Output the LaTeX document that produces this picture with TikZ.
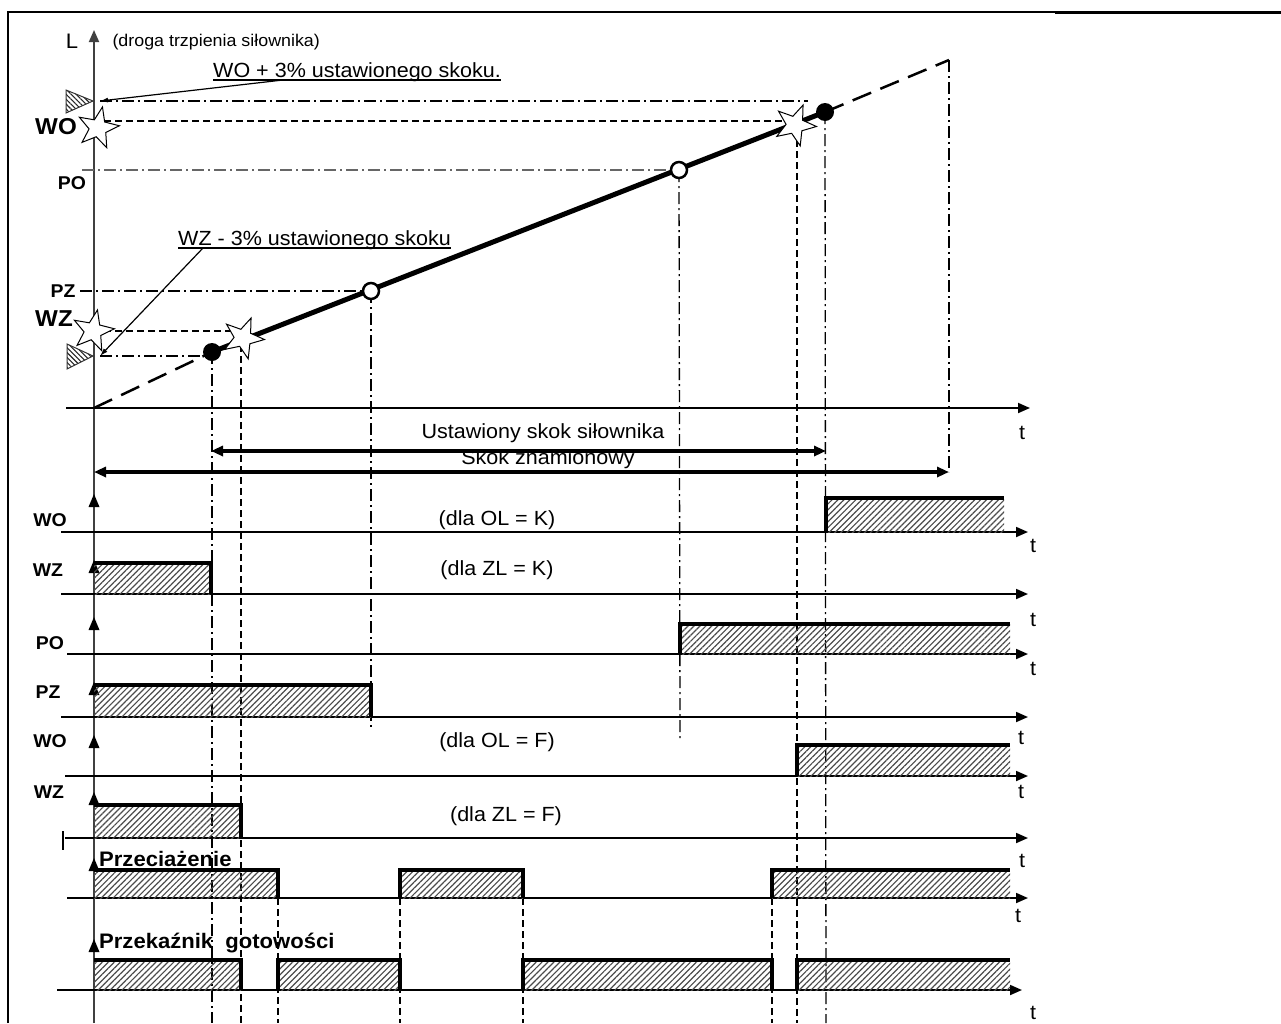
\documentclass[tikz,border=0pt]{standalone}
\usepackage{fontspec}
\setmainfont{Liberation Sans}[FakeStretch=1.05]
\usetikzlibrary{arrows.meta,shapes.geometric,patterns.meta}

\begin{document}
\begin{tikzpicture}[x=1pt,y=-1pt,>={Triangle[length=12pt,width=10pt]},
        axisline/.style={line width=1.8pt},
        dashdotline/.style={line width=1.3pt,dash pattern=on 12pt off 4pt on 2pt off 4pt},
        shortdash/.style={line width=1.3pt,dash pattern=on 7pt off 4pt},
        longdash/.style={line width=2.5pt,dash pattern=on 20pt off 10pt},
        sigedge/.style={line width=4pt},
        hatch/.style={pattern={Lines[angle=45,distance=4.2pt,line width=1.2pt]},pattern color=black!70},
        trihatch/.style={pattern={Lines[angle=-45,distance=3.5pt,line width=1.1pt]},pattern color=black!85},
        txt/.style={font=\fontsize{20.5}{23}\selectfont},
        rowlbl/.style={font=\bfseries\fontsize{18.5}{21}\selectfont},
        biglbl/.style={font=\bfseries\fontsize{23}{25}\selectfont},
        starmark/.style={star,star points=5,star point ratio=2.4,draw,fill=white,line width=1pt,minimum size=43pt,inner sep=0pt},
        leader/.style={line width=1.2pt,-{Latex[length=8pt,width=5pt]}}]
        \useasboundingbox (0,0) rectangle (1281,1023);

        % frame
        \draw[line width=1.5pt] (8,1023) -- (8,12) -- (1055,12);
        \draw[line width=2.5pt] (1055,12.5) -- (1281,12.5);

        % L axis and t axis
        \draw[axisline,black!75,->] (94,1023) -- (94,30);
        \node[font=\fontsize{21}{23}\selectfont] (Ltxt) at (72,41) {L};
        \node[anchor=west,font=\fontsize{17}{19}\selectfont] (note) at (109,42) {(droga trzpienia siłownika)};
        \draw[axisline,->] (66,408) -- (1030,408);
        \node[txt] (t0) at (1022,433) {t};

        % points on the stroke line
        \coordinate (O) at (94,408);
        \coordinate (pWZ) at (212,352);
        \coordinate (pWO) at (825,112);
        \coordinate (pEnd) at (949,60);
        \coordinate (pPZ) at (371,291);
        \coordinate (pPO) at (679,170);
        \draw[longdash] (O) -- (pWZ);
        \draw[longdash] (pWO) -- (pEnd);
        \draw[line width=5pt] (pWZ) -- (pWO);

        % levels
        \coordinate (woax) at (100,101);
        \coordinate (wzax) at (100,356);
        \draw[dashdotline] (woax) -- (808,101);
        \draw[shortdash] (104,121) -- (783,121);
        \draw[dashdotline,black!60] (82,170) -- (pPO);
        \draw[dashdotline] (80,291) -- (pPZ);
        \draw[shortdash] (104,331) -- (233,331);
        \draw[dashdotline] (wzax) -- (pWZ |- wzax);

        % verticals
        \draw[dashdotline] (pWZ) -- (212,1023);
        \draw[shortdash] (241,345) -- (241,1023);
        \draw[dashdotline] (pPZ) -- (371,729);
        \draw[dashdotline] (pPO) -- (680,738);
        \draw[shortdash] (797,140) -- (797,1023);
        \draw[dashdotline] (pWO) -- (826,1023);
        \draw[dashdotline] (pEnd) -- (949,472);
        \foreach \x in {278,400,523,772}
            \draw[shortdash] (\x,898) -- (\x,1023);

        % end switches on the axis
        \filldraw[trihatch,draw=black!80,line width=1pt] (66,90) -- (66,113) -- (93,101) -- cycle;
        \filldraw[trihatch,draw=black!80,line width=1pt] (67,344) -- (67,369) -- (93,356) -- cycle;

        % stars and dots
        \node[starmark,rotate=-12] (starWOax) at (98,128) {};
        \node[starmark,rotate=-12] (starWZax) at (93,331) {};
        \node[starmark,rotate=-22] (starWZ) at (243,338) {};
        \node[starmark,rotate=-22] (starWO) at (795,125) {};
        \node[circle,fill,inner sep=0pt,minimum size=18pt] (dotWZ) at (pWZ) {};
        \node[circle,fill,inner sep=0pt,minimum size=18pt] (dotWO) at (pWO) {};
        \node[circle,draw,fill=white,line width=2.5pt,inner sep=0pt,minimum size=16pt] (ringPZ) at (pPZ) {};
        \node[circle,draw,fill=white,line width=2.5pt,inner sep=0pt,minimum size=16pt] (ringPO) at (pPO) {};

        % level labels
        \node[biglbl] (lWO) at (56,127) {WO};
        \node[biglbl] (lWZ) at (54,319) {WZ};
        \node[rowlbl] (lPO) at (72,183) {PO};
        \node[rowlbl] (lPZ) at (63,291) {PZ};

        % notes with leaders
        \node[txt,anchor=base west,inner sep=0pt] (wop) at (213,77) {WO + 3\% ustawionego skoku.};
        \draw[line width=1.2pt] ([yshift=-3pt]wop.base west) -- ([yshift=-3pt]wop.base east);
        \draw[leader] ([xshift=70pt,yshift=-3pt]wop.base west) -- (woax);
        \node[txt,anchor=base west,inner sep=0pt] (wzm) at (178,245) {WZ - 3\% ustawionego skoku};
        \draw[line width=1.2pt] ([yshift=-3pt]wzm.base west) -- ([yshift=-3pt]wzm.base east);
        \draw[leader] ([xshift=25pt,yshift=-3pt]wzm.base west) -- (wzax);

        % stroke arrows
        \coordinate (ustL) at (211,451);
        \coordinate (ustR) at (826,451);
        \coordinate (znL) at (94,472);
        \coordinate (znR) at (949,472);
        \draw[line width=3.5pt,<->] (ustL) -- (ustR);
        \draw[line width=3.5pt,<->] (znL) -- (znR);
        \node[txt] (ustaw) at (543,433) {Ustawiony skok siłownika};
        \node[txt] (skokzn) at (548,459) {Skok znamionowy};

        % row arrows on the axis
        \foreach \y in {494,560,617,682,735,792,858,939}
            \fill (94,\y) -- (88.5,\y+13) -- (99.5,\y+13) -- cycle;

        % WO (dla OL = K)
        \draw[axisline,->] (61,532) -- (1028,532);
        \node[rowlbl] (rWO1) at (50,520) {WO};
        \node[txt] (cOLK) at (497,520) {(dla OL = K)};
        \node[txt] (tWO1) at (1033,546) {t};
        \fill[hatch] (826,498) rectangle (1004,532);
        \draw[sigedge] (826,532) -- (826,498) -- (1004,498);

        % WZ (dla ZL = K)
        \draw[axisline,->] (61,594) -- (1028,594);
        \node[rowlbl] (rWZ1) at (48,570) {WZ};
        \node[txt] (cZLK) at (497,570) {(dla ZL = K)};
        \node[txt] (tWZ1) at (1033,620) {t};
        \fill[hatch] (94,563) rectangle (211,594);
        \draw[sigedge] (94,563) -- (211,563) -- (211,594);

        % PO
        \draw[axisline,->] (67,654) -- (1028,654);
        \node[rowlbl] (rPO) at (50,643) {PO};
        \node[txt] (tPO) at (1033,669) {t};
        \fill[hatch] (680,624) rectangle (1010,654);
        \draw[sigedge] (680,654) -- (680,624) -- (1010,624);

        % PZ
        \draw[axisline,->] (61,717) -- (1028,717);
        \node[rowlbl] (rPZ) at (48,692) {PZ};
        \node[txt] (tPZ) at (1021,738) {t};
        \fill[hatch] (94,685) rectangle (371,717);
        \draw[sigedge] (94,685) -- (371,685) -- (371,717);

        % WO (dla OL = F)
        \draw[axisline,->] (65,776) -- (1028,776);
        \node[rowlbl] (rWO2) at (50,741) {WO};
        \node[txt] (cOLF) at (497,742) {(dla OL = F)};
        \node[txt] (tWO2) at (1021,792) {t};
        \fill[hatch] (797,745) rectangle (1010,776);
        \draw[sigedge] (797,776) -- (797,745) -- (1010,745);

        % WZ (dla ZL = F)
        \draw[axisline,->] (65,838) -- (1028,838);
        \draw[line width=2.5pt] (63,831) -- (63,850);
        \node[rowlbl] (rWZ2) at (49,792) {WZ};
        \node[txt] (cZLF) at (506,816) {(dla ZL = F)};
        \node[txt] (tWZ2) at (1022,861) {t};
        \fill[hatch] (94,805) rectangle (241,838);
        \draw[sigedge] (94,805) -- (241,805) -- (241,838);

        % Przeciazenie
        \draw[axisline,->] (67,898) -- (1028,898);
        \node[anchor=base west,inner sep=0pt,font=\bfseries\fontsize{21}{23}\selectfont] (przec) at (99,866) {Przeciażenie};
        \node[txt] (tPrc) at (1018,916) {t};
        \fill[hatch] (94,870) rectangle (278,898);
        \fill[hatch] (400,870) rectangle (523,898);
        \fill[hatch] (772,870) rectangle (1010,898);
        \draw[sigedge] (94,870) -- (278,870) -- (278,898);
        \draw[sigedge] (400,898) -- (400,870) -- (523,870) -- (523,898);
        \draw[sigedge] (772,898) -- (772,870) -- (1010,870);

        % Przekaznik gotowosci
        \draw[axisline,->] (57,990) -- (1022,990);
        \node[anchor=base west,inner sep=0pt,font=\bfseries\fontsize{21}{23}\selectfont] (przek) at (99,948) {Przekaźnik\ \ gotowości};
        \node[txt] (tPrk) at (1033,1013) {t};
        \fill[hatch] (94,960) rectangle (241,990);
        \fill[hatch] (278,960) rectangle (400,990);
        \fill[hatch] (523,960) rectangle (772,990);
        \fill[hatch] (797,960) rectangle (1010,990);
        \draw[sigedge] (94,960) -- (241,960) -- (241,990);
        \draw[sigedge] (278,990) -- (278,960) -- (400,960) -- (400,990);
        \draw[sigedge] (523,990) -- (523,960) -- (772,960) -- (772,990);
        \draw[sigedge] (797,990) -- (797,960) -- (1010,960);
\end{tikzpicture}
\end{document}
